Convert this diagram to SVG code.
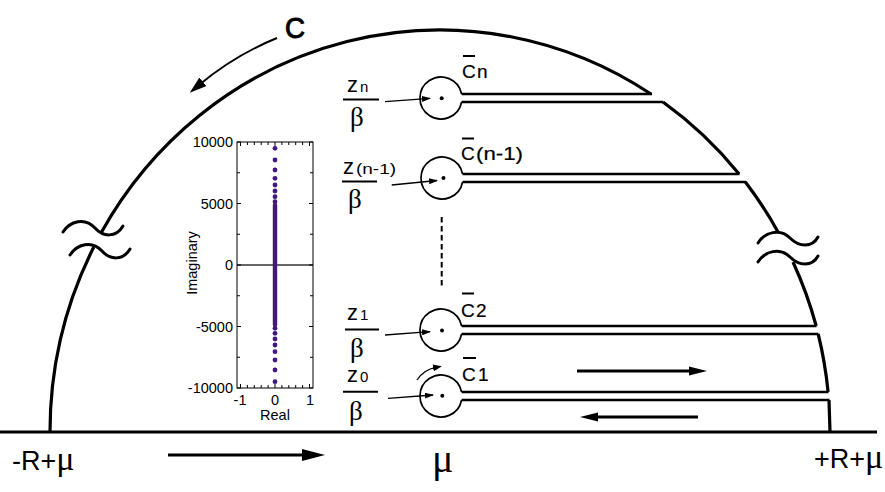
<svg xmlns="http://www.w3.org/2000/svg" width="885" height="492" viewBox="0 0 885 492">
<style>
.arc{fill:none;stroke:#000;stroke-width:3.2}
.cut{fill:none;stroke:#000;stroke-width:2.6}
.ring{fill:none;stroke:#000;stroke-width:1.7}
.pt{fill:#000}
.tilde{fill:none;stroke:#000;stroke-width:3;stroke-linecap:round}
.bar{stroke:#000;stroke-width:2}
.sans{font-family:"Liberation Sans",Arial,sans-serif;fill:#000}
.serif{font-family:"Liberation Serif","Times New Roman",serif;fill:#000}
.z{font-size:22px}
.sub{font-size:15px}
.beta{font-size:27px}
.cl{font-size:19px;stroke:#000;stroke-width:0.2}
.ptr{fill:none;stroke:#000;stroke-width:1.3}
.big{fill:none;stroke:#000;stroke-width:3}
.tick{stroke:#000;stroke-width:1}
.tl{font-size:14.5px}
.dot{fill:#42177f}
</style>
<defs>
<marker id="hBig" markerUnits="userSpaceOnUse" markerWidth="18" markerHeight="10" refX="6" refY="5" orient="auto"><path d="M0 0.5 L18 5 L0 9.5 z" fill="#000"/></marker>
<marker id="hBottom" markerUnits="userSpaceOnUse" markerWidth="23" markerHeight="12" refX="8" refY="6" orient="auto"><path d="M0 0 L23 6 L0 12 z" fill="#000"/></marker>
<marker id="hC" markerUnits="userSpaceOnUse" markerWidth="17" markerHeight="11" refX="5" refY="5.5" orient="auto"><path d="M0 0 L17 5.5 L0 11 z" fill="#000"/></marker>
<marker id="hSmall" markerUnits="userSpaceOnUse" markerWidth="9" markerHeight="6" refX="8" refY="3" orient="auto"><path d="M0 0 L9 3 L0 6 z" fill="#000"/></marker>
<marker id="hArc" markerUnits="userSpaceOnUse" markerWidth="9" markerHeight="7" refX="3" refY="3.5" orient="auto"><path d="M0 0 L9 3.5 L0 7 z" fill="#000"/></marker>
</defs>
<rect width="885" height="492" fill="#fff"/>

<g id="real-axis">
<path d="M0 432 L877 432" class="arc" style="stroke-width:2.8"/>
</g>

<g id="contour">
<path class="arc" d="M50 432 A390 402 0 0 1 93.8 247"/>
<path class="arc" d="M101 233 A390 402 0 0 1 651 94"/>
<path class="arc" d="M663 102 A390 402 0 0 1 739.1 174"/>
<path class="arc" d="M745.4 182 A390 402 0 0 1 778 232"/>
<path class="arc" d="M793 262 A390 402 0 0 1 816.2 326"/>
<path class="arc" d="M818.2 334 A390 402 0 0 1 828.1 392"/>
<path class="arc" d="M829 400 L830 432"/>
<path class="tilde" d="M63 232 C70 221 85 217 95 228 C103 237 116 238 123 226"/>
<path class="tilde" d="M70 255 C77 244 92 240 102 251 C110 260 123 261 130 249"/>
<path class="tilde" d="M758 243 C765 232 780 228 790 238 C799 247 812 248 818 237"/>
<path class="tilde" d="M758 262 C765 251 780 247 790 257 C799 266 812 267 818 256"/>
</g>

<g id="keyhole-n">
<path class="cut" d="M652 94 L461.6 94 M461.6 102 L663 102"/>
<path class="ring" d="M461.6 94 A21 21 0 1 0 461.6 102"/>
<circle class="pt" cx="441.7" cy="98.3" r="2"/>
<text class="sans z" x="347" y="92">z</text>
<text class="sans sub" x="360" y="92">n</text>
<line class="bar" x1="343" y1="99.5" x2="379" y2="99.5"/>
<text class="serif beta" x="350" y="126">β</text>
<line class="bar" x1="463" y1="56" x2="475" y2="56"/>
<text class="sans cl" x="462" y="78">C</text>
<text class="sans cl" x="477" y="78">n</text>
</g>

<g id="keyhole-n-1">
<path class="cut" d="M739.5 174 L462.6 174 M462.6 182 L746 182"/>
<path class="ring" d="M462.6 174 A21 21 0 1 0 462.6 182"/>
<circle class="pt" cx="443.5" cy="178" r="2"/>
<text class="sans z" x="343" y="174">z</text>
<text class="sans sub" x="356" y="174" textLength="40" lengthAdjust="spacingAndGlyphs">(n-1)</text>
<line class="bar" x1="342" y1="181.5" x2="377" y2="181.5"/>
<text class="serif beta" x="348" y="208">β</text>
<line class="bar" x1="462" y1="138.5" x2="474" y2="138.5"/>
<text class="sans cl" x="461" y="160">C</text>
<text class="sans cl" x="476" y="160" textLength="47" lengthAdjust="spacingAndGlyphs">(n-1)</text>
</g>

<g id="dots-between">
<path d="M441.7 217 L441.7 288" fill="none" stroke="#000" stroke-width="2" stroke-dasharray="5.5 3.5"/>
</g>

<g id="keyhole-2">
<path class="cut" d="M816.5 326 L461.6 326 M461.6 334 L818.5 334"/>
<path class="ring" d="M461.6 326 A21 21 0 1 0 461.6 334"/>
<circle class="pt" cx="442" cy="330.5" r="2"/>
<text class="sans z" x="347" y="320">z</text>
<text class="sans sub" x="360" y="320">1</text>
<line class="bar" x1="345" y1="329.5" x2="379" y2="329.5"/>
<text class="serif beta" x="350" y="357">β</text>
<line class="bar" x1="462" y1="293.5" x2="474" y2="293.5"/>
<text class="sans cl" x="461" y="317">C</text>
<text class="sans cl" x="476" y="317">2</text>
</g>

<g id="keyhole-1">
<path class="cut" d="M828.5 392 L461.6 392 M461.6 400 L829.5 400"/>
<path class="ring" d="M461.6 392 A21 21 0 1 0 461.6 400"/>
<circle class="pt" cx="442.3" cy="395.7" r="2"/>
<text class="sans z" x="347" y="382">z</text>
<text class="sans sub" x="360" y="382">0</text>
<line class="bar" x1="343" y1="391.7" x2="378" y2="391.7"/>
<text class="serif beta" x="349" y="420">β</text>
<line class="bar" x1="463" y1="358" x2="476" y2="358"/>
<text class="sans cl" x="462" y="381">C</text>
<text class="sans cl" x="478" y="381">1</text>
</g>

<g id="connectors">
<path class="ptr" d="M385 101.7 L430 98.3" marker-end="url(#hSmall)"/>
<path class="ptr" d="M391.7 185 L437 180.5" marker-end="url(#hSmall)"/>
<path class="ptr" d="M385 335 L430 331.7" marker-end="url(#hSmall)"/>
<path class="ptr" d="M388 398.3 L433 395" marker-end="url(#hSmall)"/>
<path class="ptr" d="M417 380 A29 29 0 0 1 436 367.4" marker-end="url(#hArc)"/>
<path class="big" d="M577 371 L695 371" marker-end="url(#hBig)"/>
<path class="big" d="M698 417 L592 417" marker-end="url(#hBig)"/>
<path class="big" d="M168 455 L310 455" marker-end="url(#hBottom)"/>
<path fill="none" stroke="#000" stroke-width="2" d="M277 38 Q235 55 199 85" marker-end="url(#hC)"/>
</g>

<g id="labels">
<text class="sans" x="285" y="38" font-size="30" stroke="#000" stroke-width="1" textLength="20" lengthAdjust="spacingAndGlyphs">C</text>
<text class="sans" x="12" y="470" font-size="27">-R+<tspan class="serif" font-size="34">μ</tspan></text>
<text class="sans" x="814" y="468" font-size="27">+R+<tspan class="serif" font-size="34">μ</tspan></text>
<text class="serif" x="432" y="472" font-size="40">μ</text>
</g>

<g id="inset-plot">
<line x1="237" y1="265" x2="313" y2="265" stroke="#333" stroke-width="1.4"/>
<rect x="237" y="142" width="76" height="246" fill="none" stroke="#000" stroke-width="1"/>
<path class="tick" d="M237 142 h4 M237 172.75 h3 M237 203.5 h4 M237 234.25 h3 M237 265 h4 M237 295.75 h3 M237 326.5 h4 M237 357.25 h3 M237 388 h4 M313 142 h-4 M313 172.75 h-3 M313 203.5 h-4 M313 234.25 h-3 M313 265 h-4 M313 295.75 h-3 M313 326.5 h-4 M313 357.25 h-3 M313 388 h-4"/>
<path class="tick" d="M240.5 388 v-4 M247.4 388 v-3 M254.3 388 v-3 M261.2 388 v-3 M268.1 388 v-3 M275 388 v-4 M281.9 388 v-3 M288.8 388 v-3 M295.7 388 v-3 M302.6 388 v-3 M309.5 388 v-4 M240.5 142 v4 M247.4 142 v3 M254.3 142 v3 M261.2 142 v3 M268.1 142 v3 M275 142 v4 M281.9 142 v3 M288.8 142 v3 M295.7 142 v3 M302.6 142 v3 M309.5 142 v4"/>
<path d="M275 205 L275 325" stroke="#42177f" stroke-width="4.4" stroke-linecap="round"/>
<g class="dot">
<circle cx="275" cy="148.3" r="2.4"/><circle cx="275" cy="160" r="2.4"/><circle cx="275" cy="170" r="2.4"/><circle cx="275" cy="178.3" r="2.4"/><circle cx="275" cy="185" r="2.4"/><circle cx="275" cy="191" r="2.4"/><circle cx="275" cy="196.7" r="2.4"/><circle cx="275" cy="201.7" r="2.4"/>
<circle cx="275" cy="381.7" r="2.4"/><circle cx="275" cy="370" r="2.4"/><circle cx="275" cy="360" r="2.4"/><circle cx="275" cy="351.7" r="2.4"/><circle cx="275" cy="345" r="2.4"/><circle cx="275" cy="339" r="2.4"/><circle cx="275" cy="333.3" r="2.4"/><circle cx="275" cy="328.3" r="2.4"/>
</g>
<g class="sans tl" text-anchor="end">
<text x="233" y="147">10000</text>
<text x="233" y="208.5">5000</text>
<text x="233" y="270">0</text>
<text x="233" y="331.5">-5000</text>
<text x="233" y="393">-10000</text>
</g>
<g class="sans tl" text-anchor="middle">
<text x="240" y="405">-1</text>
<text x="275" y="405">0</text>
<text x="310" y="405">1</text>
<text x="275" y="420">Real</text>
<text transform="translate(197 263) rotate(-90)">Imaginary</text>
</g>
</g>
</svg>
